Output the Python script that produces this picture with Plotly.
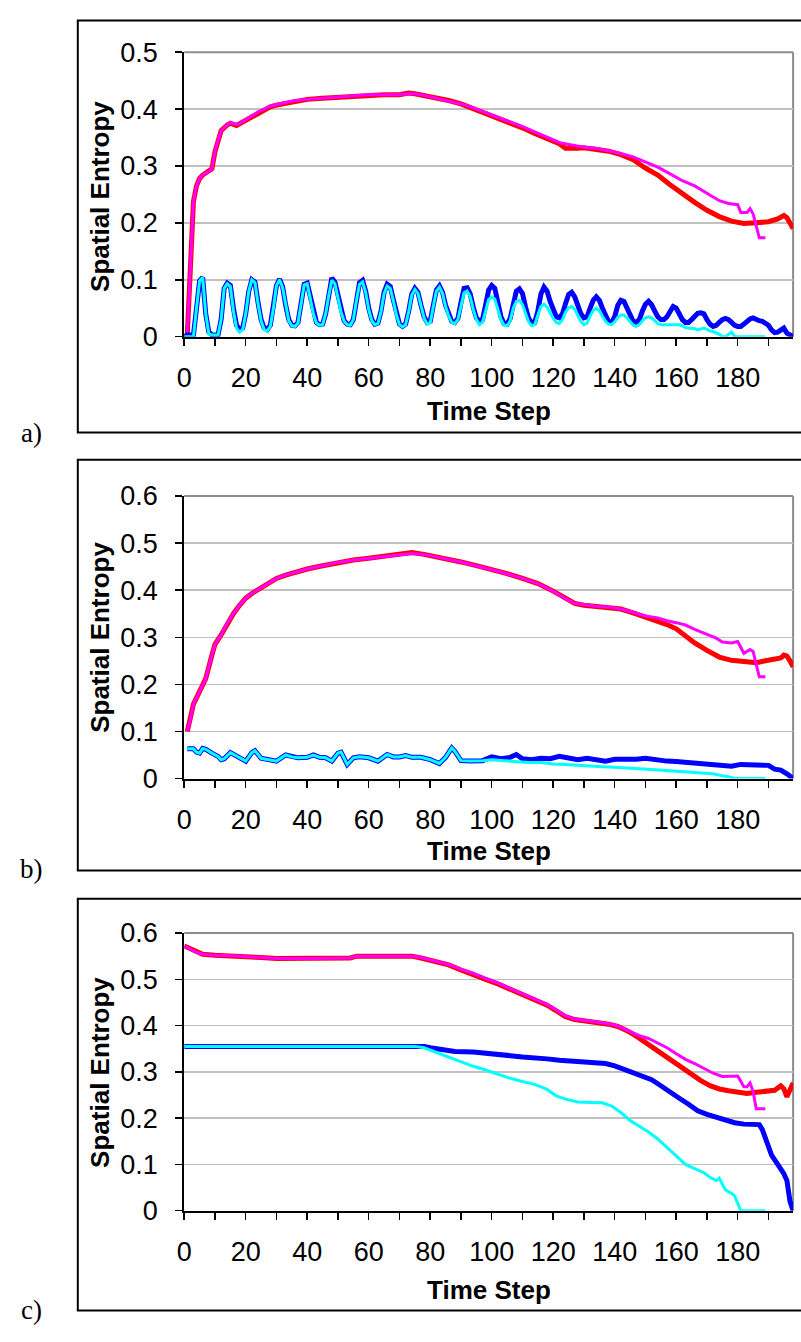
import plotly.graph_objects as go

W, H = 801, 1342

# ---------------- Panel a ----------------
a_red_t = [0, 1, 2, 3, 4, 5, 6, 8, 9, 10, 11, 12, 14, 15, 17, 18, 20, 22, 24, 26, 28, 30, 33, 36, 40, 45, 50, 55, 60, 65, 70,
           73, 75, 78, 82, 86, 90, 94, 98, 102, 106, 110, 114, 118, 122, 124, 126, 128, 130, 134, 138, 142, 146, 150, 154,
           158, 162, 166, 170, 174, 178, 182, 186, 190, 193, 195, 196, 197, 198]
a_red_v = [0.0, 0.003, 0.12, 0.238, 0.265, 0.278, 0.284, 0.29, 0.295, 0.325, 0.345, 0.362, 0.372, 0.375, 0.371, 0.374,
           0.38, 0.387, 0.394, 0.399, 0.404, 0.407, 0.41, 0.414, 0.417, 0.419, 0.421, 0.423, 0.425, 0.425, 0.425,
           0.428, 0.427, 0.424, 0.419, 0.415, 0.409, 0.401, 0.393, 0.385, 0.375, 0.367, 0.357, 0.348, 0.339,
           0.331, 0.330, 0.331, 0.332, 0.330, 0.326, 0.320, 0.311, 0.296, 0.284, 0.267, 0.251, 0.236, 0.222, 0.211,
           0.203, 0.199, 0.200, 0.202, 0.207, 0.213, 0.209, 0.199, 0.190]
a_mag_t = [0, 1, 2, 3, 4, 5, 6, 8, 9, 10, 11, 12, 14, 15, 17, 18, 20, 22, 24, 26, 28, 30, 33, 36, 40, 45, 50, 55, 60, 65, 70,
           73, 75, 78, 82, 86, 90, 94, 98, 102, 106, 110, 114, 118, 122, 126, 130, 134, 138, 142, 146, 150, 154, 158,
           162, 166, 170, 174, 177, 180, 181, 183, 184, 185, 187, 189]
a_mag_v = [0.0, 0.003, 0.12, 0.238, 0.265, 0.278, 0.284, 0.29, 0.295, 0.325, 0.345, 0.362, 0.372, 0.376, 0.373, 0.375,
           0.381, 0.388, 0.395, 0.4, 0.405, 0.408, 0.411, 0.415, 0.417, 0.419, 0.421, 0.423, 0.425, 0.425, 0.425,
           0.427, 0.427, 0.424, 0.419, 0.415, 0.409, 0.402, 0.394, 0.386, 0.377, 0.369, 0.36, 0.35, 0.341,
           0.337, 0.333, 0.331, 0.327, 0.322, 0.316, 0.307, 0.298, 0.286, 0.274, 0.265, 0.252, 0.239,
           0.234, 0.232, 0.218, 0.218, 0.225, 0.216, 0.174, 0.174]
a_blue_v = [0.0, 0.003, 0.003, 0.003, 0.05, 0.098, 0.104, 0.04, 0.008, 0.003,
            0.003, 0.003, 0.03, 0.085, 0.094, 0.09, 0.05, 0.02, 0.012, 0.015,
            0.04, 0.08, 0.1, 0.096, 0.06, 0.03, 0.015, 0.012, 0.02, 0.05,
            0.09, 0.101, 0.088, 0.055, 0.03, 0.02, 0.019, 0.025, 0.06, 0.092,
            0.094, 0.07, 0.042, 0.025, 0.021, 0.022, 0.04, 0.075, 0.103, 0.096,
            0.07, 0.045, 0.028, 0.022, 0.021, 0.03, 0.065, 0.095, 0.099, 0.08,
            0.05, 0.03, 0.022, 0.024, 0.045, 0.078, 0.092, 0.088, 0.065, 0.04,
            0.022, 0.018, 0.022, 0.045, 0.075, 0.085, 0.078, 0.055, 0.035, 0.025,
            0.027, 0.055, 0.082, 0.089, 0.078, 0.055, 0.038, 0.027, 0.025, 0.032,
            0.06, 0.085, 0.086, 0.075, 0.052, 0.033, 0.027, 0.03, 0.055, 0.082,
            0.09, 0.085, 0.06, 0.035, 0.023, 0.022, 0.032, 0.06, 0.08, 0.084,
            0.076, 0.052, 0.032, 0.024, 0.025, 0.045, 0.075, 0.087, 0.08, 0.062,
            0.045, 0.035, 0.033, 0.04, 0.058, 0.074, 0.078, 0.07, 0.055, 0.04,
            0.033, 0.035, 0.05, 0.064, 0.07, 0.064, 0.05, 0.035, 0.026, 0.025,
            0.035, 0.055, 0.064, 0.062, 0.05, 0.036, 0.027, 0.025, 0.03, 0.045,
            0.057, 0.062, 0.056, 0.045, 0.035, 0.03, 0.03, 0.035, 0.046, 0.053,
            0.05, 0.04, 0.03, 0.025, 0.025, 0.03, 0.036, 0.041, 0.042, 0.04,
            0.03, 0.022, 0.018, 0.02, 0.025, 0.03, 0.032, 0.03, 0.025, 0.02,
            0.018, 0.018, 0.022, 0.027, 0.031, 0.033, 0.03, 0.028, 0.027, 0.023,
            0.02, 0.012, 0.007, 0.008, 0.012, 0.015, 0.006, 0.002, 0.0]
a_cyan_v = [0.0, 0.0, 0.0, 0.0, 0.05, 0.098, 0.104, 0.04, 0.005, 0.003,
            0.003, 0.003, 0.03, 0.085, 0.093, 0.088, 0.045, 0.015, 0.008, 0.012,
            0.04, 0.08, 0.1, 0.095, 0.058, 0.028, 0.012, 0.01, 0.018, 0.05,
            0.09, 0.1, 0.086, 0.053, 0.028, 0.019, 0.018, 0.024, 0.06, 0.091,
            0.093, 0.068, 0.04, 0.024, 0.02, 0.021, 0.04, 0.072, 0.099, 0.093,
            0.067, 0.043, 0.027, 0.021, 0.02, 0.03, 0.063, 0.092, 0.096, 0.078,
            0.048, 0.028, 0.021, 0.023, 0.044, 0.076, 0.089, 0.085, 0.063, 0.038,
            0.021, 0.017, 0.021, 0.044, 0.073, 0.083, 0.076, 0.053, 0.033, 0.022,
            0.024, 0.053, 0.08, 0.087, 0.076, 0.053, 0.036, 0.025, 0.023, 0.03,
            0.055, 0.077, 0.08, 0.07, 0.048, 0.03, 0.021, 0.025, 0.045, 0.065,
            0.07, 0.066, 0.048, 0.03, 0.02, 0.019, 0.028, 0.05, 0.062, 0.064,
            0.056, 0.04, 0.026, 0.019, 0.021, 0.038, 0.053, 0.057, 0.052, 0.042,
            0.032, 0.025, 0.023, 0.03, 0.043, 0.051, 0.053, 0.048, 0.038, 0.027,
            0.021, 0.024, 0.036, 0.046, 0.05, 0.046, 0.036, 0.027, 0.022, 0.021,
            0.026, 0.034, 0.038, 0.038, 0.033, 0.026, 0.02, 0.018, 0.021, 0.028,
            0.033, 0.035, 0.033, 0.028, 0.023, 0.021, 0.021, 0.022, 0.022, 0.022,
            0.022, 0.021, 0.019, 0.016, 0.015, 0.015, 0.014, 0.012, 0.013, 0.015,
            0.013, 0.01, 0.009, 0.007, 0.004, 0.0, 0.0, 0.004, 0.008, 0.0,
            0.0, 0.0, 0.0, 0.0, 0.0, 0.0, 0.0, 0.0, 0.0, 0.0]
a_blue_t = list(range(len(a_blue_v)))
a_cyan_t = list(range(len(a_cyan_v)))

# ---------------- Panel b ----------------
b_red_t = [1, 2, 3, 5, 7, 9, 10, 12, 14, 16, 18, 20, 22, 25, 28, 30, 33, 36, 40, 45, 50, 55, 60, 65, 70, 74, 78, 82, 86,
           90, 95, 100, 105, 110, 115, 120, 124, 127, 130, 134, 138, 142, 146, 150, 154, 157, 160, 163, 166, 170, 174,
           178, 182, 186, 189, 192, 194, 195, 196, 197, 198]
b_red_v = [0.1, 0.125, 0.158, 0.185, 0.212, 0.262, 0.285, 0.305, 0.33, 0.35, 0.368, 0.383, 0.393, 0.405, 0.418, 0.425,
           0.432, 0.438, 0.445, 0.452, 0.459, 0.464, 0.468, 0.472, 0.476, 0.48, 0.476, 0.471, 0.466, 0.46, 0.452,
           0.444, 0.435, 0.425, 0.414, 0.398, 0.382, 0.372, 0.368, 0.366, 0.364, 0.36, 0.352, 0.343, 0.336, 0.327,
           0.318, 0.302, 0.288, 0.272, 0.258, 0.251, 0.248, 0.246, 0.25, 0.253, 0.256, 0.262, 0.26, 0.25, 0.237]
b_mag_t = [1, 2, 3, 5, 7, 9, 10, 12, 14, 16, 18, 20, 22, 25, 28, 30, 33, 36, 40, 45, 50, 55, 60, 65, 70, 74, 78, 82, 86,
           90, 95, 100, 105, 110, 115, 120, 124, 127, 130, 134, 138, 142, 146, 150, 154, 157, 160, 163, 166, 170, 173,
           175, 178, 180, 182, 184, 185, 187, 189]
b_mag_v = [0.1, 0.125, 0.158, 0.185, 0.212, 0.262, 0.285, 0.305, 0.33, 0.35, 0.368, 0.383, 0.393, 0.405, 0.418, 0.425,
           0.432, 0.438, 0.445, 0.452, 0.459, 0.464, 0.468, 0.472, 0.476, 0.478, 0.476, 0.471, 0.466, 0.46, 0.452,
           0.444, 0.435, 0.425, 0.414, 0.398, 0.382, 0.372, 0.369, 0.366, 0.364, 0.36, 0.353, 0.345, 0.341, 0.335,
           0.331, 0.326, 0.317, 0.307, 0.298, 0.29, 0.288, 0.291, 0.266, 0.274, 0.27, 0.216, 0.216]
b_blue_t = [1, 3, 4, 5, 6, 7, 9, 11, 12, 13, 15, 17, 19, 20, 22, 23, 25, 28, 30, 33, 35, 37, 40, 42, 44, 46, 48, 50, 51,
            53, 55, 57, 60, 63, 66, 68, 70, 72, 74, 77, 80, 83, 85, 87, 88, 90, 93, 97, 100, 103, 106, 108, 110, 113,
            116, 119, 122, 125, 128, 131, 134, 137, 140, 143, 147, 150, 153, 157, 160, 163, 166, 169, 172, 175, 178,
            181, 184, 188, 190, 192, 194, 196, 198]
b_blue_v = [0.063, 0.063, 0.056, 0.054, 0.064, 0.062, 0.054, 0.047, 0.04, 0.042,
            0.055, 0.048, 0.042, 0.037, 0.055, 0.059, 0.043, 0.04, 0.037, 0.05,
            0.046, 0.044, 0.045, 0.05, 0.045, 0.044, 0.037, 0.054, 0.056, 0.03,
            0.044, 0.046, 0.044, 0.037, 0.051, 0.046, 0.046, 0.049, 0.045, 0.045,
            0.04, 0.032, 0.045, 0.065, 0.058, 0.038, 0.037, 0.038, 0.046, 0.042,
            0.045, 0.051, 0.042, 0.04, 0.043, 0.042, 0.047, 0.044, 0.04, 0.043,
            0.04, 0.037, 0.041, 0.04, 0.041, 0.043, 0.04, 0.037, 0.036, 0.034,
            0.034, 0.032, 0.03, 0.028, 0.026, 0.03, 0.03, 0.03, 0.028, 0.02,
            0.018, 0.01, 0.0]
b_cyan_t = [1, 3, 4, 5, 6, 7, 9, 11, 12, 13, 15, 17, 19, 20, 22, 23, 25, 28, 30, 33, 35, 37, 40, 42, 44, 46, 48, 50, 51,
            53, 55, 57, 60, 63, 66, 68, 70, 72, 74, 77, 80, 83, 85, 87, 88, 90, 93, 97, 100, 104, 108, 112, 116, 120,
            124, 128, 132, 136, 140, 144, 148, 152, 156, 160, 164, 168, 172, 175, 177, 179, 189]
b_cyan_v = [0.063, 0.063, 0.056, 0.054, 0.064, 0.062, 0.054, 0.047, 0.04, 0.042,
            0.055, 0.048, 0.042, 0.037, 0.055, 0.059, 0.043, 0.04, 0.037, 0.05,
            0.046, 0.044, 0.045, 0.05, 0.045, 0.044, 0.037, 0.054, 0.056, 0.03,
            0.044, 0.046, 0.044, 0.037, 0.051, 0.046, 0.046, 0.049, 0.045, 0.045,
            0.04, 0.032, 0.045, 0.065, 0.058, 0.038, 0.037, 0.038,
            0.04, 0.038, 0.036, 0.034, 0.034, 0.031, 0.03, 0.028, 0.026, 0.025, 0.024, 0.023, 0.021, 0.019, 0.017,
            0.015, 0.014, 0.012, 0.01, 0.006, 0.004, 0.0, 0.0]

# ---------------- Panel c ----------------
c_red_t = [0, 2, 4, 6, 10, 16, 20, 25, 30, 40, 50, 54, 56, 65, 74, 77, 80, 83, 86, 90, 94, 98, 102, 106, 110, 114, 118,
           121, 124, 127, 130, 134, 138, 141, 144, 147, 150, 153, 156, 159, 162, 165, 168, 171, 174, 177, 180, 183, 186,
           189, 192, 194, 195, 196, 197, 198]
c_red_v = [0.572, 0.565, 0.558, 0.554, 0.552, 0.551, 0.549, 0.547, 0.545, 0.545, 0.545, 0.546, 0.55, 0.55, 0.55, 0.546,
           0.541, 0.537, 0.531, 0.52, 0.511, 0.5, 0.49, 0.478, 0.466, 0.455, 0.444, 0.432, 0.419, 0.413, 0.41, 0.408,
           0.403, 0.398, 0.389, 0.377, 0.363, 0.351, 0.335, 0.322, 0.307, 0.293, 0.281, 0.27, 0.263, 0.259, 0.256,
           0.253, 0.256, 0.258, 0.26, 0.27, 0.263, 0.246, 0.26, 0.276]
c_mag_t = [0, 2, 4, 6, 10, 16, 20, 25, 30, 40, 50, 54, 56, 65, 74, 77, 80, 83, 86, 90, 94, 98, 102, 106, 110, 114, 118,
           121, 124, 127, 130, 134, 138, 141, 145, 148, 151, 154, 157, 160, 163, 166, 169, 172, 175, 178, 180, 182, 183,
           184, 185, 186, 189]
c_mag_v = [0.572, 0.565, 0.558, 0.554, 0.552, 0.551, 0.549, 0.547, 0.545, 0.545, 0.545, 0.546, 0.55, 0.55, 0.55, 0.547,
           0.542, 0.538, 0.532, 0.522, 0.513, 0.502, 0.492, 0.48, 0.468, 0.457, 0.446, 0.434, 0.421, 0.414, 0.411,
           0.408, 0.404, 0.399, 0.388, 0.378, 0.372, 0.362, 0.352, 0.339, 0.327, 0.318, 0.307, 0.297, 0.29, 0.291,
           0.291, 0.268, 0.268, 0.276, 0.258, 0.22, 0.22]
c_blue_t = [0, 78, 80, 84, 88, 94, 98, 102, 106, 110, 114, 118, 122, 126, 130, 134, 137, 140, 143, 146, 149, 152, 155,
            158, 161, 164, 167, 170, 173, 176, 179, 182, 185, 187, 188, 189, 190, 191, 193, 195, 196, 197, 198]
c_blue_v = [0.355, 0.355, 0.352, 0.347, 0.344, 0.343, 0.341, 0.338, 0.335, 0.332, 0.331, 0.328, 0.325, 0.323, 0.322,
            0.321, 0.318, 0.313, 0.306, 0.297, 0.29, 0.283, 0.27, 0.258, 0.243, 0.23, 0.216, 0.208, 0.202, 0.197,
            0.19, 0.187, 0.187, 0.186, 0.175, 0.158, 0.14, 0.12, 0.1, 0.08, 0.065, 0.02, 0.0]
c_cyan_t = [0, 75, 78, 82, 86, 90, 94, 98, 102, 106, 110, 114, 118, 121, 124, 128, 132, 136, 139, 142, 145, 148, 151,
            154, 157, 160, 163, 166, 169, 171, 173, 174, 176, 178, 179, 181, 189]
c_cyan_v = [0.355, 0.355, 0.352, 0.342, 0.333, 0.322, 0.312, 0.304, 0.295, 0.286, 0.279, 0.273, 0.262, 0.248, 0.241,
            0.235, 0.234, 0.233, 0.226, 0.212, 0.195, 0.182, 0.17, 0.155, 0.137, 0.118, 0.1, 0.091, 0.082, 0.072,
            0.065, 0.07, 0.045, 0.037, 0.032, 0.0, 0.0]

x_tick_step = 20
x_minor_step = 10
y_tick_step = 0.1
x_max = 198
y_max = [0.5, 0.6, 0.6]
panel_labels = ["a)", "b)", "c)"]
x_title = "Time Step"
y_title = "Spatial Entropy"

SANS = "Arial, 'Liberation Sans', sans-serif"
SERIF = "'Times New Roman', 'Liberation Serif', serif"
RED, MAG, BLUE, CYAN = "#FF0000", "#FF00FF", "#0000FF", "#00FFFF"

# layout geometry in pixels
PLOT_L, PLOT_R = 178, 793
panel_geo = [
    dict(top=38, bottom=329, box_top=5.7, box_bot=427, lab_y=428, xt_y=405, yt_y=186),
    dict(top=492, bottom=781, box_top=455, box_bot=875, lab_y=874, xt_y=855, yt_y=637),
    dict(top=939, bottom=1223, box_top=904, box_bot=1325, lab_y=1325, xt_y=1304, yt_y=1082),
]
series = [
    [(a_red_t, a_red_v, RED, 5), (a_mag_t, a_mag_v, MAG, 3), (a_blue_t, a_blue_v, BLUE, 5), (a_cyan_t, a_cyan_v, CYAN, 3)],
    [(b_red_t, b_red_v, RED, 5), (b_mag_t, b_mag_v, MAG, 3), (b_blue_t, b_blue_v, BLUE, 5), (b_cyan_t, b_cyan_v, CYAN, 3)],
    [(c_red_t, c_red_v, RED, 5), (c_mag_t, c_mag_v, MAG, 3), (c_blue_t, c_blue_v, BLUE, 5), (c_cyan_t, c_cyan_v, CYAN, 3)],
]


def fx(p):
    return p / W


def fy(p):
    return 1 - p / H


fig = go.Figure()
shapes = []
annotations = []
layout = {}
for i, geo in enumerate(panel_geo):
    sfx = "" if i == 0 else str(i + 1)
    xa, ya = "x" + sfx, "y" + sfx
    for t, v, col, lw in series[i]:
        fig.add_trace(go.Scatter(x=t, y=v, mode="lines", xaxis=xa, yaxis=ya, showlegend=False,
                                 line=dict(color=col, width=lw), hoverinfo="skip"))
    layout["xaxis" + sfx] = dict(
        domain=[fx(PLOT_L), fx(PLOT_R)], range=[0, x_max], anchor=ya,
        tickmode="linear", tick0=0, dtick=x_tick_step, ticks="outside", ticklen=7, tickwidth=1.5,
        tickcolor="#000", showline=True, linecolor="#000", linewidth=2, showgrid=False, zeroline=False,
        tickfont=dict(family=SANS, size=27, color="#000"), ticklabelstandoff=9, layer="below traces",
        minor=dict(tick0=0, dtick=x_minor_step, ticks="outside", ticklen=7, tickwidth=1.5, tickcolor="#000",
                   showgrid=False),
        fixedrange=True)
    layout["yaxis" + sfx] = dict(
        domain=[fy(geo["bottom"]), fy(geo["top"])], range=[0, y_max[i]], anchor=xa,
        tickmode="linear", tick0=0, dtick=y_tick_step, ticks="outside", ticklen=7, tickwidth=1.5,
        tickcolor="#000", showline=True, linecolor="#000", linewidth=2, showgrid=True,
        gridcolor="#c0c0c0", gridwidth=1.5, zeroline=False,
        tickfont=dict(family=SANS, size=27, color="#000"), ticklabelstandoff=12, layer="below traces",
        fixedrange=True)
    # plot-area border (top / right)
    shapes.append(dict(type="line", xref=xa + " domain", yref=ya + " domain", x0=0, x1=1, y0=1, y1=1,
                       line=dict(color="#8c8c8c", width=2), layer="below"))
    shapes.append(dict(type="line", xref=xa + " domain", yref=ya + " domain", x0=1, x1=1, y0=0, y1=1,
                       line=dict(color="#8c8c8c", width=2), layer="below"))
    # outer panel box
    shapes.append(dict(type="rect", xref="paper", yref="paper", x0=fx(70.5), x1=fx(812),
                       y0=fy(geo["box_bot"]), y1=fy(geo["box_top"]),
                       line=dict(color="#000", width=2), fillcolor="rgba(0,0,0,0)", layer="below"))
    annotations.append(dict(text="<b>" + x_title + "</b>", xref="paper", yref="paper",
                            x=fx((PLOT_L + PLOT_R) / 2), y=fy(geo["xt_y"]), xanchor="center", yanchor="middle",
                            showarrow=False, font=dict(family=SANS, size=26, color="#000")))
    annotations.append(dict(text="<b>" + y_title + "</b>", xref="paper", yref="paper", textangle=-90,
                            x=fx(93), y=fy(geo["yt_y"]), xanchor="center", yanchor="middle",
                            showarrow=False, font=dict(family=SANS, size=26, color="#000")))
    annotations.append(dict(text=panel_labels[i], xref="paper", yref="paper",
                            x=fx(24), y=fy(geo["lab_y"]), xanchor="center", yanchor="middle",
                            showarrow=False, font=dict(family=SERIF, size=27, color="#000")))

fig.update_layout(
    width=W, height=H, margin=dict(l=0, r=0, t=0, b=0, pad=0),
    paper_bgcolor="white", plot_bgcolor="white", showlegend=False,
    shapes=shapes, annotations=annotations, **layout)

fig.write_html("out.html", config={"displayModeBar": False, "staticPlot": True},
               post_script="document.body.style.margin='0';document.body.style.overflow='hidden';")
